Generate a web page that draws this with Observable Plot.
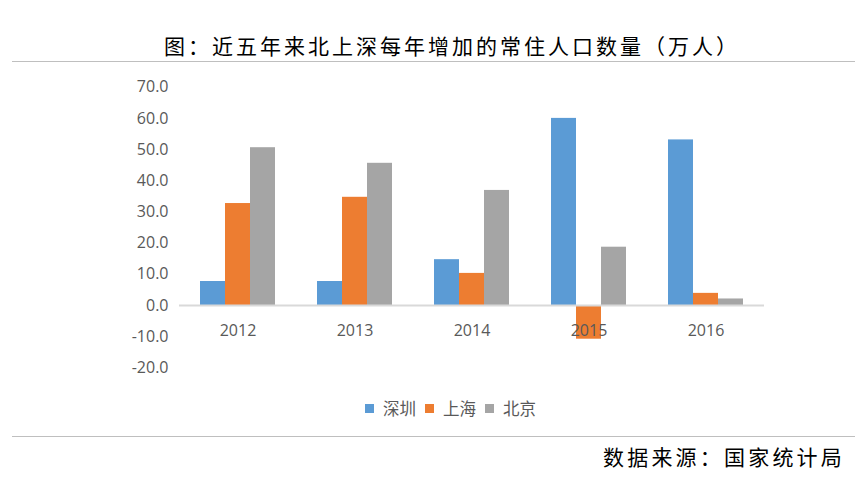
<!DOCTYPE html>
<html><head><meta charset="utf-8">
<script src="https://cdn.jsdelivr.net/npm/d3@7"></script>
<script src="https://cdn.jsdelivr.net/npm/@observablehq/plot@0.6"></script>
<style>
body{margin:0;background:#fff;}
#wrap{position:relative;width:867px;height:494px;overflow:hidden;font-family:"Noto Sans CJK SC",sans-serif;background:#fff;}
#title{position:absolute;left:164px;top:35px;font-size:21px;line-height:21px;letter-spacing:3px;color:#000;white-space:nowrap;}
.hr{position:absolute;left:12px;width:843px;height:1px;background:#bfbfbf;}
#chart{position:absolute;left:0;top:70px;}
#legend{position:absolute;left:365px;top:398px;height:20px;display:flex;align-items:center;font-size:16.5px;color:#595959;white-space:nowrap;}
#legend .sw{width:9px;height:9px;margin-right:9px;}
#legend .lb{margin-right:9px;}
#caption{position:absolute;right:22px;top:446px;font-size:21px;line-height:21px;letter-spacing:3.2px;color:#000;white-space:nowrap;}
</style></head><body>
<div id="wrap">
<div id="title">图：近五年来北上深每年增加的常住人口数量（万人）</div>
<div class="hr" style="top:61px"></div>
<div id="chart"></div>
<div id="legend"></div>
<div class="hr" style="top:436px"></div>
<div id="caption">数据来源：国家统计局</div>
</div>
<script>
const years = ["2012", "2013", "2014", "2015", "2016"];
const cities = ["深圳", "上海", "北京"];
const shenzhen = [7.7, 7.7, 14.7, 60.0, 53.1];
const shanghai = [32.7, 34.7, 10.3, -10.8, 3.9];
const beijing = [50.6, 45.6, 36.9, 18.7, 2.1];
const colors = ["#5b9bd5", "#ed7d31", "#a5a5a5"];
const yTicks = [-20, -10, 0, 10, 20, 30, 40, 50, 60, 70];

const series = [shenzhen, shanghai, beijing];
const data = years.flatMap((y, i) => cities.map((c, j) => ({year: y, city: c, value: series[j][i]})));

const chart = Plot.plot({
  width: 867,
  height: 320,
  marginLeft: 178,
  marginRight: 102,
  marginTop: 16.7,
  marginBottom: 22.6,
  style: {fontSize: "16px", fontFamily: "'Open Sans', 'Noto Sans CJK SC', sans-serif", color: "#595959", background: "transparent"},
  fx: {domain: years, padding: 0, axis: null},
  x: {domain: cities, paddingInner: 0, paddingOuter: 0.757, axis: null},
  y: {domain: [-20, 70], ticks: yTicks, tickFormat: d => d.toFixed(1), tickSize: 0, tickPadding: 11, label: null},
  color: {domain: cities, range: colors},
  marks: [
    Plot.barY(data, {fx: "year", x: "city", y: "value", fill: "city"}),
    Plot.ruleY([0], {stroke: "#d9d9d9", strokeWidth: 2}),
    Plot.text(years, {fx: d => d, y: 0, text: d => d, dy: 25, frameAnchor: "middle", fill: "#595959", fontSize: 16})
  ]
});
document.getElementById("chart").appendChild(chart);

const legend = document.getElementById("legend");
cities.forEach((c, i) => {
  const sw = document.createElement("span");
  sw.className = "sw";
  sw.style.background = colors[i];
  const lb = document.createElement("span");
  lb.className = "lb";
  lb.textContent = c;
  legend.appendChild(sw);
  legend.appendChild(lb);
});
</script>
</body></html>
